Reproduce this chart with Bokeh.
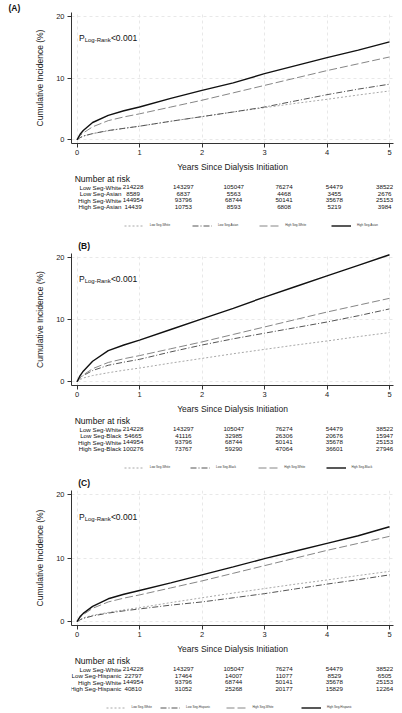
from bokeh.plotting import figure
from bokeh.layouts import column
from bokeh.models import Range1d, Label, Legend, LegendItem, FixedTicker
from bokeh.core.properties import value
from bokeh.embed import file_html
from bokeh.resources import INLINE

# ---------------- data ----------------
years = [0, 0.05, 0.1, 0.25, 0.5, 0.75, 1, 1.5, 2, 2.5, 3, 3.5, 4, 4.5, 5]
risk_years = [0, 1, 2, 3, 4, 5]
y_ticks = [0, 10, 20]

ci_low_white = [0, 0.35, 0.6, 1.0, 1.45, 1.85, 2.2, 3.0, 3.75, 4.5, 5.2, 5.9, 6.55, 7.25, 7.9]
ci_high_white = [0, 0.7, 1.1, 2.1, 3.1, 3.7, 4.2, 5.3, 6.4, 7.6, 8.8, 10.0, 11.2, 12.3, 13.4]
ci_low_asian = [0, 0.35, 0.6, 1.0, 1.5, 1.85, 2.2, 3.0, 3.75, 4.5, 5.3, 6.3, 7.3, 8.2, 9.0]
ci_high_asian = [0, 0.9, 1.5, 2.8, 3.95, 4.7, 5.3, 6.7, 8.0, 9.2, 10.7, 12.0, 13.3, 14.5, 15.85]
ci_low_black = [0, 0.6, 1.0, 1.8, 2.65, 3.15, 3.6, 4.8, 5.9, 6.9, 7.8, 8.7, 9.6, 10.6, 11.7]
ci_high_black = [0, 1.0, 1.7, 3.3, 5.0, 5.9, 6.7, 8.4, 10.1, 11.8, 13.6, 15.3, 17.0, 18.7, 20.4]
ci_low_hispanic = [0, 0.3, 0.5, 0.9, 1.35, 1.7, 2.0, 2.6, 3.1, 3.75, 4.4, 5.15, 5.9, 6.6, 7.35]
ci_high_hispanic = [0, 0.8, 1.3, 2.4, 3.6, 4.3, 4.9, 6.1, 7.35, 8.6, 9.9, 11.1, 12.3, 13.5, 14.9]

risk_low_white = [214228, 143297, 105047, 76274, 54479, 38522]
risk_high_white = [144954, 93796, 68744, 50141, 35678, 25153]
risk_low_asian = [8589, 6837, 5563, 4468, 3455, 2676]
risk_high_asian = [14439, 10753, 8593, 6808, 5219, 3984]
risk_low_black = [54665, 41116, 32985, 26306, 20676, 15947]
risk_high_black = [100276, 73767, 59290, 47064, 36601, 27946]
risk_low_hispanic = [22797, 17464, 14007, 11077, 8529, 6505]
risk_high_hispanic = [40810, 31052, 25268, 20177, 15829, 12264]

panel_tags = ["(A)", "(B)", "(C)"]
groups = ["Asian", "Black", "Hispanic"]
p_text = ["<0.001", "<0.001", "<0.001"]

# ---------------- layout / style ----------------
FONT = "Liberation Sans"
W = 400
LEFT, RIGHT, BOTTOM = 71, 7, 29
XS, XE = -0.088, 5.064
YS, YE = -0.6, 20.6
FRAME_W = W - LEFT - RIGHT
PPU = FRAME_W / (XE - XS)
NAR_Y, FIRST_ROW_Y, ROW_STEP = 4.0, 12.5, 6.6
NAR_X, LABEL_X = -1.16, -0.232
LEG_CY = 51.0                       # legend centre, px below table top
LEG_SHIFT, LEG_SCALE = 42.0, 1.1    # empirical mapping of legend location -> pixels
TAG_X = -1.09                       # panel tag left edge (years)

# (chart top border, frame height, table height, next tag centre from table bottom)
panel_layout = [
    (10, 135, 77, 5.5),
    (2, 134, 72, 5.5),
    (2, 137, 55, None),
]
legend_px = [  # wanted left edge of each legend sample, px
    [100, 175, 249, 328],
    [100, 173, 248, 322],
    [80, 140, 213, 295],
]

STYLES = [  # low white, low minority, high white, high minority
    dict(line_color="#a8a8a8", line_dash="2 2", line_width=1.0),
    dict(line_color="#555555", line_dash="6 2 1 2", line_width=1.0),
    dict(line_color="#868686", line_dash="8 3", line_width=1.0),
    dict(line_color="#111111", line_dash="solid", line_width=1.4),
]


def make_chart(tag, curves, top, frame_h):
    p = figure(width=W, height=top + frame_h + BOTTOM, title=tag,
               x_range=Range1d(XS, XE), y_range=Range1d(YS, YE),
               output_backend="svg", toolbar_location=None,
               min_border_left=LEFT, min_border_right=RIGHT,
               min_border_top=top, min_border_bottom=BOTTOM)
    if tag:
        p.title.align = "left"
        p.title.offset = 8 - LEFT
        p.title.standoff = 0
        p.title.text_font = FONT
        p.title.text_font_size = "8.5px"
        p.title.text_font_style = "bold"
        p.title.text_color = "#111111"
    p.outline_line_color = None
    p.background_fill_color = "white"
    p.border_fill_color = "white"
    p.xaxis.ticker = FixedTicker(ticks=risk_years)
    p.yaxis.ticker = FixedTicker(ticks=y_ticks)
    p.xaxis.axis_label = "Years Since Dialysis Initiation"
    p.yaxis.axis_label = "Cumulative Incidence (%)"
    for ax in (p.xaxis[0], p.yaxis[0]):
        ax.axis_label_text_font = FONT
        ax.axis_label_text_font_size = "8.5px"
        ax.axis_label_text_font_style = "normal"
        ax.axis_label_text_color = "#222222"
        ax.major_label_text_font = FONT
        ax.major_label_text_font_size = "7.5px"
        ax.major_label_text_color = "#222222"
        ax.major_tick_out = 4
        ax.major_tick_in = 0
        ax.minor_tick_out = 0
        ax.minor_tick_in = 0
        ax.axis_line_color = "#333333"
        ax.major_tick_line_color = "#333333"
    p.xaxis.major_label_standoff = 2
    p.xaxis.axis_label_standoff = 4
    p.yaxis.major_label_standoff = 3
    p.yaxis.axis_label_standoff = 8
    for g in (p.xgrid[0], p.ygrid[0]):
        g.grid_line_color = "#e2e2e2"
        g.grid_line_dash = "3 3"
        g.grid_line_width = 0.8
    for ys, st in zip(curves, STYLES):
        p.line(x=years, y=ys, **st)
    return p


def add_plogrank(p, ptxt):
    common = dict(x=0.03, y=16.5, text_font=FONT, text_color="#111111",
                  text_baseline="alphabetic")
    p.add_layout(Label(text="P", text_font_size="8.5px", **common))
    p.add_layout(Label(text="Log-Rank", text_font_size="6px", x_offset=5.8, y_offset=-2, **common))
    p.add_layout(Label(text=ptxt, text_font_size="8.5px", x_offset=32, **common))


def make_table(names, risks, curves, leg_px, table_h, next_tag, tag_dy):
    t = figure(width=W, height=table_h, title=None,
               x_range=Range1d(XS - LEFT / PPU, XE + RIGHT / PPU),
               y_range=Range1d(table_h, 0),
               x_axis_type=None, y_axis_type=None,
               output_backend="svg", toolbar_location=None, min_border=0)
    t.outline_line_color = None
    t.background_fill_color = "white"
    t.border_fill_color = "white"
    t.text(x=[NAR_X], y=[NAR_Y], text=["Number at risk"], text_font=value(FONT),
           text_font_size="8.5px", text_baseline="middle", text_align="left",
           text_color="#111111")
    row_y = [FIRST_ROW_Y + i * ROW_STEP for i in range(len(names))]
    t.text(x=[LABEL_X] * len(names), y=row_y, text=names, text_font=value(FONT),
           text_font_size="6.2px", text_baseline="middle", text_align="right",
           text_color="#111111")
    xs, ysv, txt = [], [], []
    for r, yy in zip(risks, row_y):
        for xv, n in zip(risk_years, r):
            xs.append(xv)
            ysv.append(yy)
            txt.append(str(n))
    t.text(x=xs, y=ysv, text=txt, text_font=value(FONT), text_font_size="6.2px",
           text_baseline="middle", text_align="center", text_color="#111111")
    if next_tag:
        t.text(x=[TAG_X], y=[table_h - tag_dy], text=[next_tag], text_font=value(FONT),
               text_font_size="8.5px", text_font_style="bold", text_baseline="middle",
               text_align="left", text_color="#111111")
    # legend: renderers drawn on a hidden range so only the legend samples show
    t.extra_y_ranges = {"hidden": Range1d(-1000, -900)}
    for name, st, ys, px in zip(names, STYLES, curves, leg_px):
        r = t.line(x=years, y=ys, y_range_name="hidden", **st)
        leg = Legend(items=[LegendItem(label=name, renderers=[r])],
                     orientation="horizontal",
                     location=((px - LEG_SHIFT) / LEG_SCALE, table_h - LEG_CY - 2.5),
                     glyph_width=20, glyph_height=5, label_height=5, label_width=10,
                     label_standoff=6, padding=0, margin=0, border_line_color=None,
                     background_fill_alpha=0, label_text_font=FONT,
                     label_text_font_size="3px", label_text_color="#333333")
        t.add_layout(leg)
    return t


all_curves = [
    [ci_low_white, ci_low_asian, ci_high_white, ci_high_asian],
    [ci_low_white, ci_low_black, ci_high_white, ci_high_black],
    [ci_low_white, ci_low_hispanic, ci_high_white, ci_high_hispanic],
]
all_risks = [
    [risk_low_white, risk_low_asian, risk_high_white, risk_high_asian],
    [risk_low_white, risk_low_black, risk_high_white, risk_high_black],
    [risk_low_white, risk_low_hispanic, risk_high_white, risk_high_hispanic],
]

children = []
for i, (grp, ptxt, curves, risks, lay, lp) in enumerate(zip(groups, p_text, all_curves,
                                                            all_risks, panel_layout, legend_px)):
    top, fh, th, tag_dy = lay
    names = ["Low Seg-White", "Low Seg-" + grp, "High Seg-White", "High Seg-" + grp]
    ch = make_chart(panel_tags[i] if i == 0 else None, curves, top, fh)
    add_plogrank(ch, ptxt)
    children.append(ch)
    next_tag = panel_tags[i + 1] if i + 1 < len(panel_tags) else None
    children.append(make_table(names, risks, curves, lp, th, next_tag, tag_dy))

layout = column(*children, spacing=0)
open("out.html", "w").write(file_html(layout, INLINE))
